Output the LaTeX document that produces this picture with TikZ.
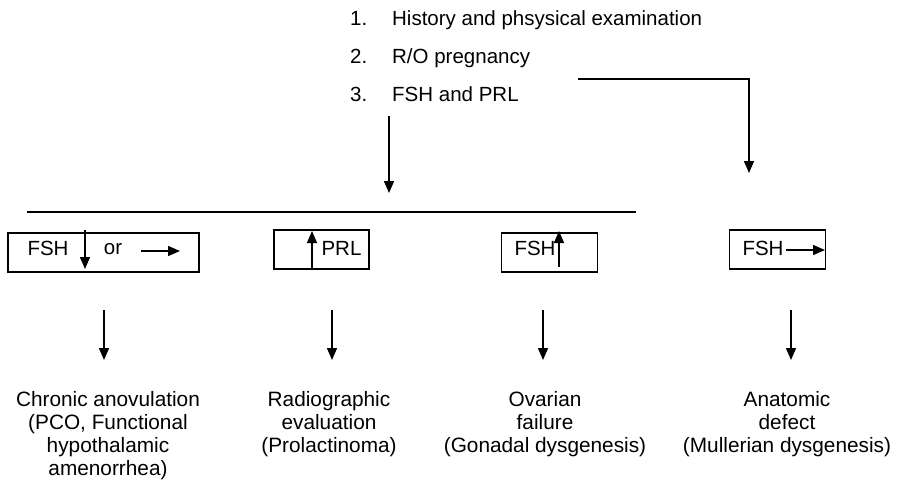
\documentclass[tikz,border=0pt]{standalone}
\usepackage{fontspec}
\setmainfont{Liberation Sans}
\usetikzlibrary{arrows.meta,calc}
\tikzset{
  conn/.style={line width=1.5pt,-{Triangle[length=12pt,width=10pt]}},
  boxnode/.style={draw,line width=1.5pt,minimum height=39pt,inner sep=0pt},
  toptext/.style={anchor=base west,inner sep=0pt,font=\fontsize{20.5}{23}\selectfont},
  boxtext/.style={inner sep=0pt,font=\fontsize{20.5}{23}\selectfont},
  bottext/.style={inner sep=0pt,anchor=north,align=center,font=\fontsize{20.8}{23}\selectfont}
}
\begin{document}
\begin{tikzpicture}[x=1pt,y=-1pt]
\path[use as bounding box] (0,0) rectangle (897,488);
% top list
\node[toptext] (l1) at (350,25) {\makebox[42pt][l]{1.}History and phsysical examination};
\node[toptext] (l2) at (350,63) {\makebox[42pt][l]{2.}R/O pregnancy};
\node[toptext] (l3) at (350,101) {\makebox[42pt][l]{3.}FSH and PRL};
% connectors from list
\coordinate (ta) at (389,116);
\coordinate (tb) at (389,193);
\draw[conn] (ta) -- (tb);
\coordinate (ba) at (578,79);
\coordinate (bb) at (749,173);
\draw[conn] (ba) -| (bb);
% horizontal line
\coordinate (ha) at (27,212);
\coordinate (hb) at (636,212);
\draw[line width=1.5pt] (ha) -- (hb);
% boxes
\node[boxnode,minimum width=191pt] (b1) at (103.5,252.5) {};
\node[boxnode,minimum width=95pt] (b2) at (321.5,249.5) {};
\node[boxnode,minimum width=96pt] (b3) at (549.5,252.5) {};
\node[boxnode,minimum width=96pt] (b4) at (777.5,249.5) {};
% box 1 contents
\node[boxtext] (f1) at (48,248) {FSH};
\node[boxtext] (o1) at (113,249) {or};
\coordinate (d1a) at (85,230);
\coordinate (d1b) at (85,269);
\draw[conn] (d1a) -- (d1b);
\coordinate (r1a) at (141,251);
\coordinate (r1b) at (180,251);
\draw[conn] (r1a) -- (r1b);
% box 2 contents
\node[boxtext] (p2) at (341.5,248.5) {PRL};
\coordinate (u2a) at (312,268);
\coordinate (u2b) at (312,231);
\draw[conn] (u2a) -- (u2b);
% box 3 contents
\node[boxtext] (f3) at (535,248) {FSH};
\coordinate (u3a) at (559,267);
\coordinate (u3b) at (559,231);
\draw[conn] (u3a) -- (u3b);
% box 4 contents
\node[boxtext] (f4) at (763,248) {FSH};
\coordinate (r4a) at (786,250);
\coordinate (r4b) at (825,250);
\draw[conn] (r4a) -- (r4b);
% lower arrows
\foreach \x/\n in {104/1,332/2,543/3,791/4}{
  \coordinate (da\n) at (\x,310);
  \coordinate (db\n) at (\x,360);
  \draw[conn] (da\n) -- (db\n);
}
% bottom texts
\node[bottext] (c1) at (108,391) {Chronic anovulation\\(PCO, Functional\\hypothalamic\\amenorrhea)};
\node[bottext] (c2) at (329,391) {Radiographic\\evaluation\\(Prolactinoma)};
\node[bottext] (c3) at (545,391) {Ovarian\\failure\\(Gonadal dysgenesis)};
\node[bottext] (c4) at (787,391) {Anatomic\\defect\\(Mullerian dysgenesis)};
\end{tikzpicture}
\end{document}
